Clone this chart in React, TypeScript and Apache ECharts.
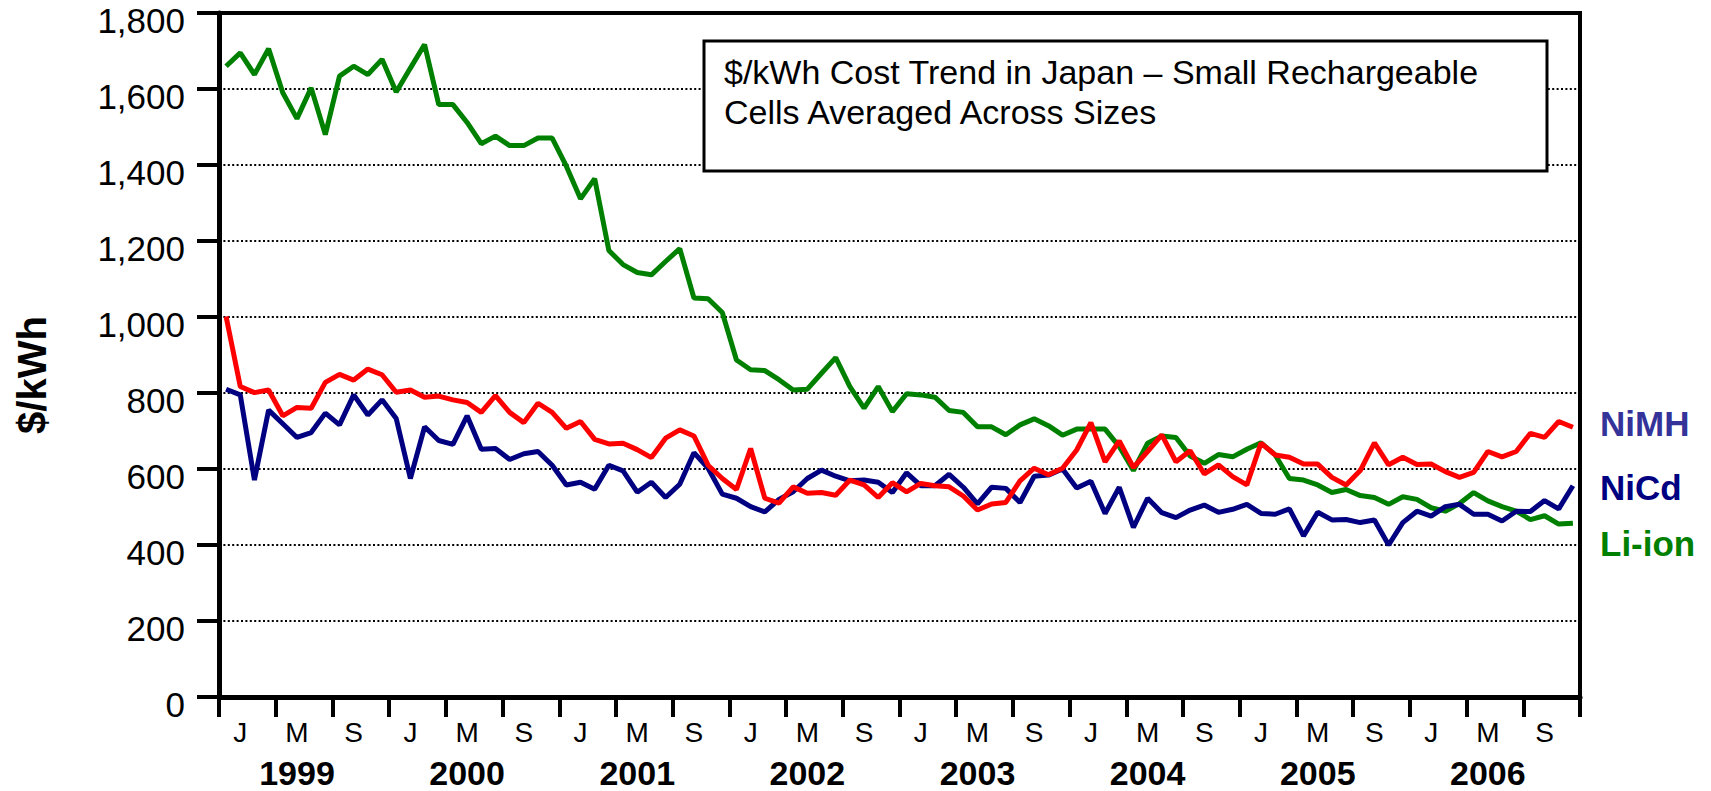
import React, { useEffect, useRef } from "react";
import * as echarts from "echarts";

const years = ["1999", "2000", "2001", "2002", "2003", "2004", "2005", "2006"];
const monthCodes = ["01", "02", "03", "04", "05", "06", "07", "08", "09", "10", "11", "12"];
const categories = years.flatMap((y) => monthCodes.map((m) => `${y}-${m}`));
const periodLabels = ["J", "M", "S"];

const yMin = 0;
const yMax = 1800;
const yInterval = 200;

// NiMH (red line)
const nimh = [
  1001, 817, 801, 808, 740, 762, 760, 828, 849, 834, 863, 848,
  802, 808, 789, 792, 782, 775, 749, 793, 749, 722, 773, 749,
  707, 725, 678, 666, 668, 651, 630, 681, 703, 687, 610, 575,
  546, 654, 523, 510, 553, 536, 538, 531, 571, 558, 525, 564,
  540, 562, 556, 553, 529, 492, 508, 512, 569, 602, 585, 602,
  650, 722, 619, 674, 604, 646, 690, 619, 648, 587, 611, 580,
  558, 668, 637, 631, 613, 613, 578, 558, 596, 669, 611, 631,
  612, 613, 593, 578, 591, 646, 632, 646, 694, 683, 725, 710,
];

// NiCd (navy line)
const nicd = [
  810, 795, 571, 755, 719, 683, 696, 747, 716, 795, 742, 782,
  733, 575, 711, 675, 665, 740, 652, 654, 625, 640, 646, 610,
  558, 565, 547, 610, 595, 539, 565, 525, 560, 643, 602, 534,
  523, 501, 487, 520, 540, 575, 597, 581, 569, 571, 565, 538,
  590, 556, 556, 586, 552, 508, 552, 549, 512, 581, 584, 600,
  550, 568, 483, 552, 446, 523, 485, 472, 492, 505, 486, 494,
  507, 483, 481, 495, 424, 486, 466, 467, 459, 466, 400, 459,
  489, 476, 501, 507, 481, 481, 463, 489, 488, 517, 495, 556,
];

// Li-ion (green line)
const liion = [
  1660, 1695, 1638, 1706, 1590, 1522, 1603, 1480, 1634, 1660, 1638, 1678,
  1592, 1655, 1717, 1559, 1559, 1512, 1456, 1476, 1451, 1451, 1471, 1471,
  1397, 1311, 1364, 1175, 1138, 1117, 1111, 1146, 1180, 1050, 1048, 1012,
  887, 861, 859, 835, 808, 810, 852, 893, 817, 760, 817, 751,
  798, 795, 789, 754, 749, 711, 711, 690, 716, 732, 714, 689,
  705, 705, 705, 659, 596, 668, 687, 683, 634, 615, 638, 632,
  652, 669, 637, 575, 571, 558, 538, 546, 530, 525, 507, 527,
  520, 498, 489, 509, 538, 516, 501, 489, 467, 477, 455, 457,
];

const seriesNames = ["Li-ion", "NiCd", "NiMH"];
const seriesColors = ["#008000", "#000080", "#ff0000"];
const legendLabels = ["NiMH", "NiCd", "Li-ion"];
const legendColors = ["#333399", "#000080", "#008000"];
const titleLines = ["$/kWh Cost Trend in Japan – Small Rechargeable", "Cells Averaged Across Sizes"];
const yAxisTitle = "$/kWh";

const FONT = "'Liberation Sans', Arial, Helvetica, sans-serif";

export default function App() {
  const ref = useRef<HTMLDivElement>(null);

  useEffect(() => {
    document.body.style.margin = "0";
    if (!ref.current) return;
    const chart = echarts.init(ref.current, null, { renderer: "svg" });
    const seriesData = [liion, nicd, nimh];

    chart.setOption({
      animation: false,
      backgroundColor: "#ffffff",
      textStyle: { fontFamily: FONT },
      grid: {
        left: 219,
        right: 131,
        top: 13,
        bottom: 94,
        show: true,
        borderColor: "#000",
        borderWidth: 4,
        backgroundColor: "transparent",
      },
      xAxis: [
        {
          type: "category",
          data: categories,
          boundaryGap: true,
          axisLine: { show: true, lineStyle: { color: "#000", width: 5 } },
          axisTick: {
            show: true,
            interval: 3,
            length: 20,
            alignWithLabel: false,
            lineStyle: { color: "#000", width: 4 },
          },
          axisLabel: {
            interval: (idx: number) => idx % 4 === 1,
            formatter: (_v: string, idx: number) => periodLabels[Math.floor((idx % 12) / 4)],
            fontSize: 28,
            lineHeight: 28,
            color: "#000",
            fontFamily: FONT,
            margin: 21,
          },
          splitLine: { show: false },
        },
        {
          type: "category",
          data: categories,
          boundaryGap: true,
          position: "bottom",
          axisLine: { show: false },
          axisTick: { show: false },
          axisLabel: {
            interval: (idx: number) => idx % 12 === 5,
            formatter: (v: string) => v.slice(0, 4),
            fontSize: 34,
            lineHeight: 28,
            fontWeight: "bold",
            color: "#000",
            fontFamily: FONT,
            margin: 62,
          },
          splitLine: { show: false },
        },
      ],
      yAxis: {
        type: "value",
        min: yMin,
        max: yMax,
        interval: yInterval,
        axisLine: { show: true, lineStyle: { color: "#000", width: 5 } },
        axisTick: { show: true, length: 22, lineStyle: { color: "#000", width: 4 } },
        axisLabel: {
          fontSize: 35,
          lineHeight: 14,
          verticalAlign: "top",
          color: "#000",
          fontFamily: FONT,
          margin: 34,
          formatter: (v: number) => v.toLocaleString("en-US"),
        },
        splitLine: {
          show: true,
          lineStyle: { color: "#000", width: 2, type: [2, 2.4] },
        },
      },
      series: seriesData.map((d, i) => ({
        name: seriesNames[i],
        type: "line",
        xAxisIndex: 0,
        data: d,
        showSymbol: false,
        symbol: "none",
        lineStyle: { color: seriesColors[i], width: 5 },
        itemStyle: { color: seriesColors[i] },
        z: 3 + i,
      })),
      graphic: [
        {
          type: "rect",
          shape: { x: 704, y: 41, width: 843, height: 130 },
          style: { fill: "#fff", stroke: "#000", lineWidth: 3 },
          z: 100,
        },
        {
          type: "text",
          x: 724,
          y: 52,
          style: {
            text: titleLines.join("\n"),
            font: `34px ${FONT}`,
            fill: "#000",
            lineHeight: 40,
            textVerticalAlign: "top",
          },
          z: 101,
        },
        {
          type: "text",
          x: 32,
          y: 375,
          rotation: Math.PI / 2,
          style: {
            text: yAxisTitle,
            font: `bold 40px ${FONT}`,
            fill: "#000",
            textAlign: "center",
            textVerticalAlign: "middle",
          },
          z: 101,
        },
        ...legendLabels.map((t, i) => ({
          type: "text",
          x: 1600,
          y: [423, 487, 543][i],
          style: {
            text: t,
            font: `bold 35px ${FONT}`,
            fill: legendColors[i],
            textVerticalAlign: "middle",
          },
          z: 101,
        })),
      ],
    });

    return () => chart.dispose();
  }, []);

  return <div ref={ref} style={{ width: 1711, height: 791 }} />;
}
